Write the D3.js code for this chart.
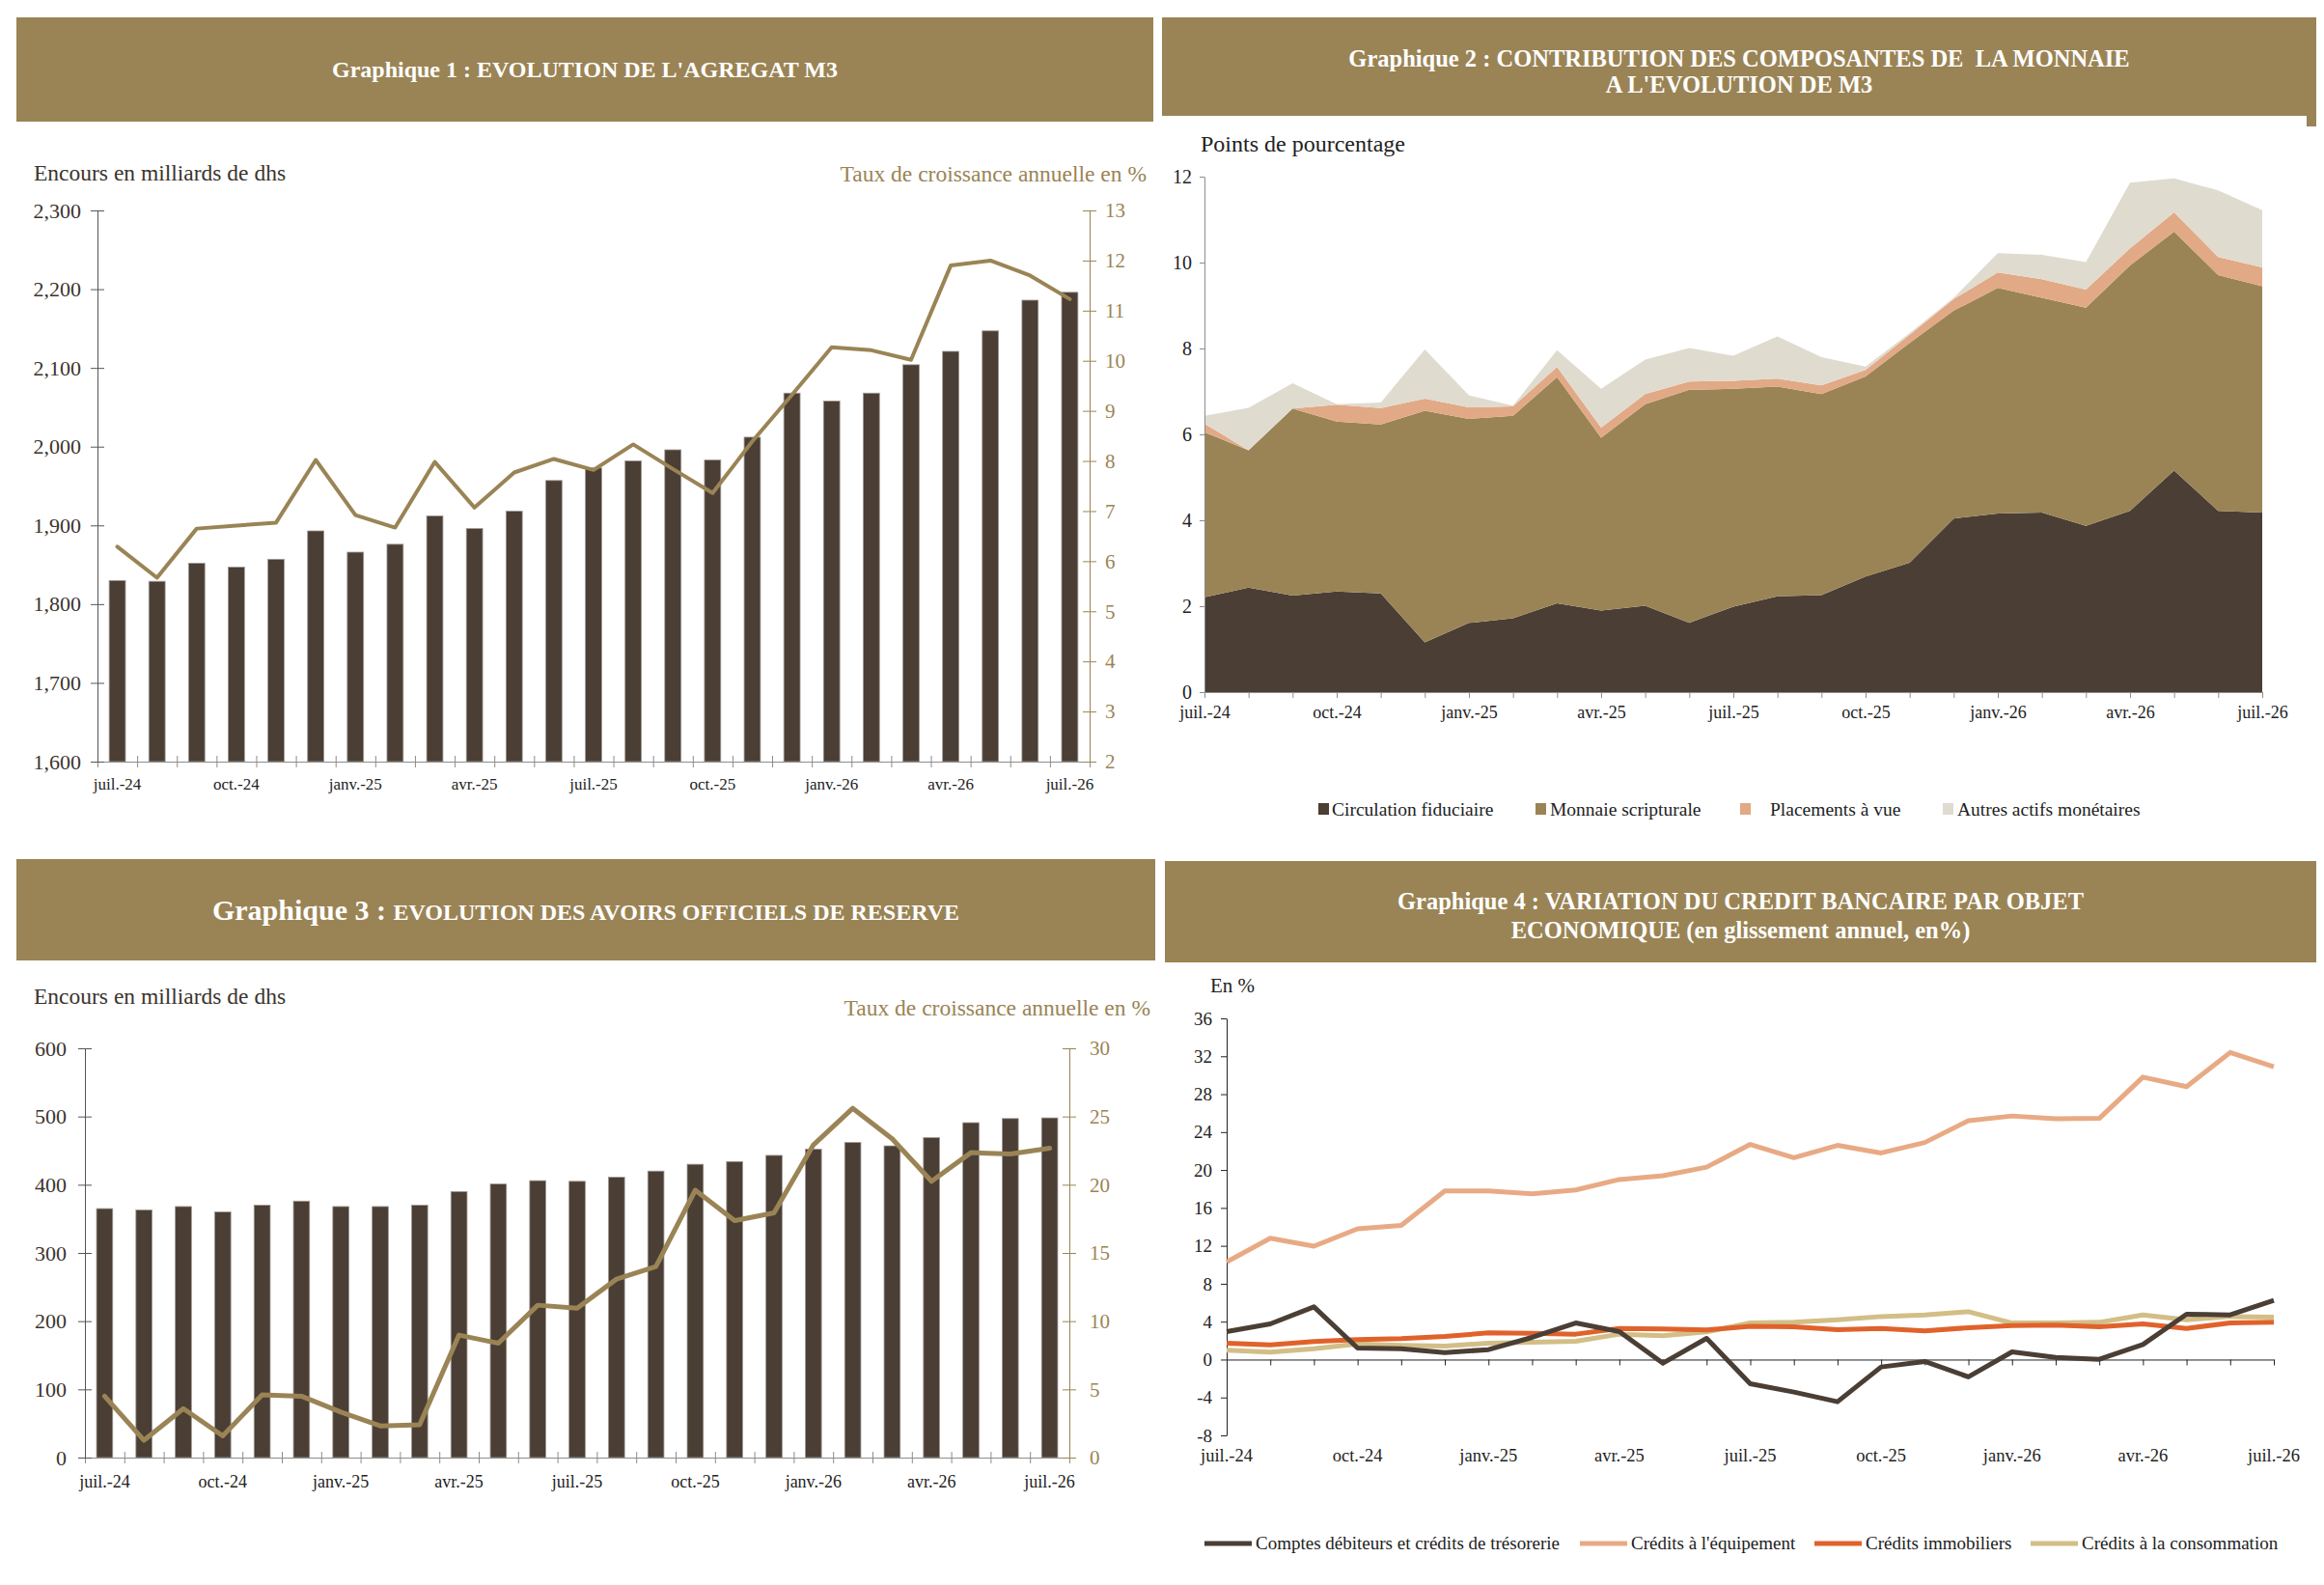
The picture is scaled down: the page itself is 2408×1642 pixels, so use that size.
<!DOCTYPE html>
<html>
<head>
<meta charset="utf-8">
<script src="https://cdn.jsdelivr.net/npm/d3@7"></script>
<style>
  body { margin: 0; background: #fff; }
  svg { display: block; }
  text { font-family: "Liberation Serif", "Times New Roman", serif; white-space: pre; }
</style>
</head>
<body>
<svg id="page"></svg>
<script>
// ---- data -------------------------------------------------------------
const months = ['juil.-24','août-24','sept.-24','oct.-24','nov.-24','déc.-24',
  'janv.-25','févr.-25','mars-25','avr.-25','mai-25','juin-25',
  'juil.-25','août-25','sept.-25','oct.-25','nov.-25','déc.-25',
  'janv.-26','févr.-26','mars-26','avr.-26','mai-26','juin-26','juil.-26'];

// Graphique 1 : M3
const m3Encours = [1830,1829,1852,1847,1857,1893,1866,1876,1912,1896,1918,1957,1973,
  1982,1996,1983,2012,2068,2058,2068,2104,2121,2147,2186,2196];
const m3Taux = [6.29,5.67,6.65,6.71,6.77,8.02,6.92,6.67,7.98,7.07,7.77,8.04,7.82,
  8.33,7.84,7.36,8.39,9.32,10.27,10.21,10.02,11.9,12.0,11.7,11.23];

// Graphique 2 : contributions (points de pourcentage)
const circulation = [2.21,2.43,2.25,2.34,2.30,1.16,1.61,1.72,2.07,1.90,2.01,1.61,1.99,
  2.23,2.26,2.69,3.01,4.04,4.16,4.18,3.87,4.22,5.16,4.22,4.18];
const scripturale = [3.84,3.20,4.35,3.96,3.93,5.39,4.75,4.71,5.26,4.02,4.69,5.43,5.07,
  4.88,4.68,4.66,5.12,4.84,5.25,5.00,5.08,5.71,5.56,5.49,5.27];
const placements = [0.20,0,0,0.39,0.38,0.28,0.27,0.22,0.24,0.24,0.24,0.19,0.19,
  0.19,0.20,0.15,0.19,0.27,0.36,0.43,0.42,0.40,0.45,0.42,0.44];
const autresActifs = [0.18,0.99,0.59,0.01,0.13,1.15,0.28,0.02,0.39,0.90,0.80,0.78,0.58,
  0.98,0.66,0.08,0.04,0.03,0.45,0.57,0.64,1.53,0.79,1.55,1.33];
const compNames = ['Circulation fiduciaire','Monnaie scripturale','Placements à vue','Autres actifs monétaires'];

// Graphique 3 : avoirs officiels de reserve
const aorEncours = [365,363,368,360,370,376,368,368,370,390,401,406,405,
  411,420,430,434,443,452,462,457,469,491,497,498];
const aorTaux = [4.5,1.27,3.59,1.59,4.6,4.5,3.33,2.32,2.41,8.98,8.38,11.17,10.95,
  13.08,14.0,19.6,17.37,17.94,22.92,25.6,23.37,20.25,22.35,22.25,22.67];

// Graphique 4 : credit bancaire (glissement annuel, %)
const tresorerie = [2.95,3.76,5.56,1.22,1.15,0.74,1.05,2.34,3.86,2.95,-0.38,2.24,-2.55,
  -3.43,-4.45,-0.78,-0.2,-1.83,0.81,0.23,0.03,1.59,4.78,4.71,6.24];
const equipement = [10.3,12.8,11.96,13.8,14.15,17.8,17.8,17.5,17.9,19.0,19.4,20.3,22.7,
  21.3,22.6,21.8,22.9,25.2,25.7,25.4,25.45,29.8,28.8,32.4,30.9];
const immobiliers = [1.73,1.56,1.9,2.1,2.2,2.44,2.81,2.78,2.68,3.29,3.22,3.12,3.52,
  3.46,3.15,3.29,3.02,3.36,3.59,3.63,3.46,3.76,3.29,3.86,3.93];
const consommation = [0.98,0.78,1.15,1.66,1.49,1.42,1.73,1.83,1.93,2.68,2.51,2.92,3.86,
  3.93,4.2,4.54,4.71,5.05,3.86,3.86,3.93,4.71,4.2,4.54,4.47];
const creditNames = ['Comptes débiteurs et crédits de trésorerie','Crédits à l\'équipement',
  'Crédits immobiliers','Crédits à la consommation'];

// ---- styles -----------------------------------------------------------
const C = {
  banner: '#9a8455', gold: '#9a8455', bar: '#4a3e35', text: '#3b342e', axisText: '#222',
  placements: '#e1a985', autres: '#e0dbcf',
  equip: '#e8aa84', immo: '#e0622b', conso: '#d2be86'
};
const showLabel = (d, i) => i % 3 === 0;

const svg = d3.select('#page').attr('width', 2408).attr('height', 1642);

function drawBanner(x, y, w, h, lines) {
  svg.append('rect').attr('x', x).attr('y', y).attr('width', w).attr('height', h).attr('fill', C.banner);
  lines.forEach(l => {
    const t = svg.append('text').attr('x', x + w / 2).attr('y', l.y)
      .attr('text-anchor', 'middle').attr('fill', '#fff').attr('font-weight', 'bold');
    l.parts.forEach(p => t.append('tspan').attr('font-size', p[1]).text(p[0]));
  });
}

function styleAxis(g, size, color, lineColor) {
  g.attr('font-family', '"Liberation Serif", serif').attr('font-size', size);
  g.selectAll('text').attr('fill', color);
  g.selectAll('line').attr('stroke', lineColor);
  g.select('.domain').attr('stroke', lineColor);
}

// bars + growth line, two y axes
function comboChart(o) {
  const g = svg.append('g');
  const x = d3.scaleBand().domain(months).range([o.x0, o.x1]).paddingInner(0.59).paddingOuter(0.295);
  const y = d3.scaleLinear().domain(o.yDomain).range([o.yb, o.yt]);
  const y2 = d3.scaleLinear().domain(o.y2Domain).range([o.yb, o.yt]);
  const cx = (d, i) => x(months[i]) + x.bandwidth() / 2;

  g.selectAll('rect.bar').data(o.bars).join('rect').attr('class', 'bar')
    .attr('x', (d, i) => x(months[i])).attr('y', d => y(d))
    .attr('width', x.bandwidth()).attr('height', d => o.yb - y(d))
    .attr('fill', C.bar).attr('stroke', '#a09a94').attr('stroke-width', 0.8);

  // category boundaries on the x axis
  const xb = d3.scaleLinear().domain([0, months.length]).range([o.x0, o.x1]);
  const ax = g.append('g').attr('transform', `translate(0,${o.yb})`)
    .call(d3.axisBottom(xb).tickValues(d3.range(months.length + 1)).tickFormat('').tickSizeOuter(0).tickSize(6));
  ax.selectAll('.tick line').attr('y1', -6);
  styleAxis(ax, 17, C.axisText, '#8c8c8c');

  g.selectAll('text.xl').data(months).join('text').attr('class', 'xl')
    .filter(showLabel)
    .attr('x', d => x(d) + x.bandwidth() / 2).attr('y', o.labelY)
    .attr('text-anchor', 'middle').attr('font-size', o.xFont).attr('fill', C.axisText).text(d => d);

  const al = g.append('g').attr('transform', `translate(${o.x0},0)`)
    .call(d3.axisLeft(y).tickValues(o.yTicks).tickFormat(o.yFmt).tickSize(7).tickPadding(o.leftPad).tickSizeOuter(0));
  al.selectAll('.tick line').attr('x1', 7);
  styleAxis(al, o.leftFont, C.text, '#555');

  const ar = g.append('g').attr('transform', `translate(${o.x1},0)`)
    .call(d3.axisRight(y2).tickValues(o.y2Ticks).tickSize(7).tickPadding(o.rightPad).tickSizeOuter(0));
  ar.selectAll('.tick line').attr('x1', -7);
  styleAxis(ar, o.rightFont, C.gold, C.gold);

  g.append('path').datum(o.line)
    .attr('d', d3.line().x(cx).y(d => y2(d)))
    .attr('fill', 'none').attr('stroke', C.gold).attr('stroke-width', o.lineWidth)
    .attr('stroke-linejoin', 'round').attr('stroke-linecap', 'round');

  g.append('text').attr('x', o.titleLx).attr('y', o.titleY1).attr('font-size', 23.5)
    .attr('fill', C.text).text('Encours en milliards de dhs');
  g.append('text').attr('x', o.titleRx).attr('y', o.titleY2).attr('font-size', 23.5)
    .attr('text-anchor', 'end').attr('fill', C.gold).text('Taux de croissance annuelle en %');
}

// ---- Graphique 1 ------------------------------------------------------
drawBanner(17, 18, 1178, 108, [{ y: 80, parts: [["Graphique 1 : EVOLUTION DE L'AGREGAT M3", 24]] }]);
comboChart({
  x0: 101, x1: 1129, yb: 789, yt: 218,
  yDomain: [1600, 2300], yTicks: d3.range(1600, 2301, 100), yFmt: d3.format(','),
  y2Domain: [2, 13], y2Ticks: d3.range(2, 14),
  bars: m3Encours, line: m3Taux, lineWidth: 4,
  leftFont: 22, leftPad: 10, rightFont: 21, rightPad: 9, xFont: 17, labelY: 818,
  titleLx: 35, titleY1: 187, titleRx: 1188, titleY2: 188
});

// ---- Graphique 2 ------------------------------------------------------
drawBanner(1204, 18, 1196, 102, [
  { y: 69, parts: [['Graphique 2 : CONTRIBUTION DES COMPOSANTES DE  LA MONNAIE', 24.5]] },
  { y: 96, parts: [["A L'EVOLUTION DE M3", 24.5]] }
]);
svg.append('rect').attr('x', 2390).attr('y', 120).attr('width', 10).attr('height', 11).attr('fill', C.banner);
(function () {
  const g = svg.append('g');
  const x = d3.scalePoint().domain(months).range([1248, 2344]);
  const y = d3.scaleLinear().domain([0, 12]).range([717, 183]);
  const keys = ['circ', 'scrip', 'plac', 'autres'];
  const colors = [C.bar, C.banner, C.placements, C.autres];
  const rows = months.map((m, i) => ({ m, circ: circulation[i], scrip: scripturale[i], plac: placements[i], autres: autresActifs[i] }));
  const series = d3.stack().keys(keys)(rows);
  const area = d3.area().x(d => x(d.data.m)).y0(d => y(d[0])).y1(d => y(d[1]));
  g.selectAll('path.layer').data(series).join('path').attr('class', 'layer')
    .attr('d', area).attr('fill', (d, i) => colors[i]);

  const ax = g.append('g').attr('transform', 'translate(0,717)')
    .call(d3.axisBottom(x).tickSize(6).tickPadding(8).tickSizeOuter(0).tickFormat((d, i) => showLabel(d, i) ? d : ''));
  styleAxis(ax, 18, C.axisText, '#8c8c8c');
  const ay = g.append('g').attr('transform', 'translate(1248,0)')
    .call(d3.axisLeft(y).tickValues(d3.range(0, 13, 2)).tickSize(5).tickPadding(8).tickSizeOuter(0));
  styleAxis(ay, 20, C.axisText, '#8c8c8c');

  g.append('text').attr('x', 1244).attr('y', 157).attr('font-size', 24).attr('fill', '#222').text('Points de pourcentage');

  const legX = [1366, 1591, 1803, 2013];
  const txtX = [1380, 1606, 1834, 2028];
  const leg = g.selectAll('g.leg').data(compNames).join('g').attr('class', 'leg');
  leg.append('rect').attr('x', (d, i) => legX[i]).attr('y', 832).attr('width', 11).attr('height', 12)
    .attr('fill', (d, i) => colors[i]);
  leg.append('text').attr('x', (d, i) => txtX[i]).attr('y', 845).attr('font-size', 19.5).attr('fill', '#222').text(d => d);
})();

// ---- Graphique 3 ------------------------------------------------------
drawBanner(17, 890, 1180, 105, [{ y: 953, parts: [['Graphique 3 : ', 30], ['EVOLUTION DES AVOIRS OFFICIELS DE RESERVE', 24]] }]);
comboChart({
  x0: 88, x1: 1108, yb: 1510, yt: 1086,
  yDomain: [0, 600], yTicks: d3.range(0, 601, 100), yFmt: d3.format('d'),
  y2Domain: [0, 30], y2Ticks: d3.range(0, 31, 5),
  bars: aorEncours, line: aorTaux, lineWidth: 5,
  leftFont: 22, leftPad: 12, rightFont: 21, rightPad: 14, xFont: 18, labelY: 1541,
  titleLx: 35, titleY1: 1040, titleRx: 1192, titleY2: 1052
});

// ---- Graphique 4 ------------------------------------------------------
drawBanner(1207, 892, 1193, 105, [
  { y: 942, parts: [['Graphique 4 : VARIATION DU CREDIT BANCAIRE PAR OBJET', 24.5]] },
  { y: 972, parts: [['ECONOMIQUE (en glissement annuel, en%)', 24.5]] }
]);
(function () {
  const g = svg.append('g');
  const x = d3.scalePoint().domain(months).range([1271, 2356]);
  const y = d3.scaleLinear().domain([-8, 36]).range([1487, 1055]);
  const lines = [tresorerie, equipement, immobiliers, consommation];
  const colors = [C.bar, C.equip, C.immo, C.conso];

  const ay = g.append('g').attr('transform', 'translate(1271,0)')
    .call(d3.axisLeft(y).tickValues(d3.range(-8, 37, 4)).tickFormat(d => String(d))
      .tickSize(6).tickPadding(9).tickSizeOuter(0));
  styleAxis(ay, 19, C.axisText, '#222');
  const ax = g.append('g').attr('transform', `translate(0,${y(0)})`)
    .call(d3.axisBottom(x).tickSize(6).tickFormat('').tickSizeOuter(0));
  styleAxis(ax, 18, C.axisText, '#222');

  g.selectAll('text.xl').data(months).join('text').attr('class', 'xl')
    .filter(showLabel)
    .attr('x', d => x(d)).attr('y', 1514).attr('text-anchor', 'middle')
    .attr('font-size', 18.5).attr('fill', C.axisText).text(d => d);

  const line = d3.line().x((d, i) => x(months[i])).y(d => y(d));
  // draw order: consumer, housing, equipment, then treasury on top
  [3, 2, 1, 0].forEach(k => {
    g.append('path').datum(lines[k]).attr('d', line).attr('fill', 'none')
      .attr('stroke', colors[k]).attr('stroke-width', 5).attr('stroke-linejoin', 'round');
  });

  g.append('text').attr('x', 1254).attr('y', 1028).attr('font-size', 21).attr('fill', '#222').text('En %');

  const swX = [1248, 1637, 1880, 2104];
  const leg = g.selectAll('g.leg').data(creditNames).join('g').attr('class', 'leg');
  leg.append('line').attr('x1', (d, i) => swX[i]).attr('x2', (d, i) => swX[i] + 49)
    .attr('y1', 1599).attr('y2', 1599).attr('stroke', (d, i) => colors[i]).attr('stroke-width', 5);
  leg.append('text').attr('x', (d, i) => swX[i] + 53).attr('y', 1605).attr('font-size', 19)
    .attr('fill', '#222').text(d => d);
})();
</script>
</body>
</html>
